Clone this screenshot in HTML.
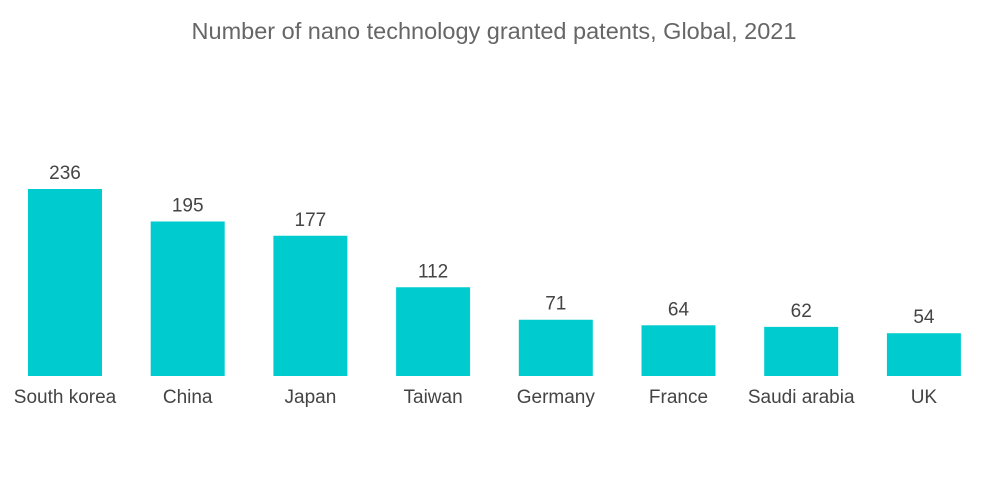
<!DOCTYPE html>
<html>
<head>
<meta charset="utf-8">
<style>
  html,body{margin:0;padding:0;background:#fff;}
  body{width:1000px;height:504px;overflow:hidden;font-family:"Liberation Sans",sans-serif;}
  svg{display:block;}
</style>
</head>
<body>
<svg id="chart" width="1000" height="504" viewBox="0 0 1000 504">
  <text x="494" y="39" text-anchor="middle" font-size="23.5" fill="#666">Number of nano technology granted patents, Global, 2021</text>
  <g id="bars"></g>
</svg>
<script>
const categories = ["South korea","China","Japan","Taiwan","Germany","France","Saudi arabia","UK"];
const values = [236,195,177,112,71,64,62,54];

const svg = document.getElementById('bars');
const NS = 'http://www.w3.org/2000/svg';
const baseY = 376, pxPerUnit = 187/236;
const firstCenter = 65, step = 122.7, barW = 74;
function xScale(i){ return firstCenter + i*step; }
function yScale(v){ return baseY - v*pxPerUnit; }

categories.forEach((c,i)=>{
  const cx = xScale(i), top = yScale(values[i]);
  const r = document.createElementNS(NS,'rect');
  
  
  r.setAttribute('x', cx - barW/2);
  r.setAttribute('y', top);
  r.setAttribute('width', barW);
  r.setAttribute('height', baseY - top);
  r.setAttribute('fill', '#00cccf');
  svg.appendChild(r);

  const v = document.createElementNS(NS,'text');
  
  
  v.setAttribute('x', cx);
  v.setAttribute('y', top - 10);
  v.setAttribute('text-anchor', 'middle');
  v.setAttribute('font-size', '19');
  v.setAttribute('fill', '#444');
  v.textContent = values[i];
  svg.appendChild(v);

  const l = document.createElementNS(NS,'text');
  
  
  l.setAttribute('x', cx);
  l.setAttribute('y', 403);
  l.setAttribute('text-anchor', 'middle');
  l.setAttribute('font-size', '19');
  l.setAttribute('fill', '#444');
  l.textContent = c;
  svg.appendChild(l);
});
</script>
</body>
</html>
